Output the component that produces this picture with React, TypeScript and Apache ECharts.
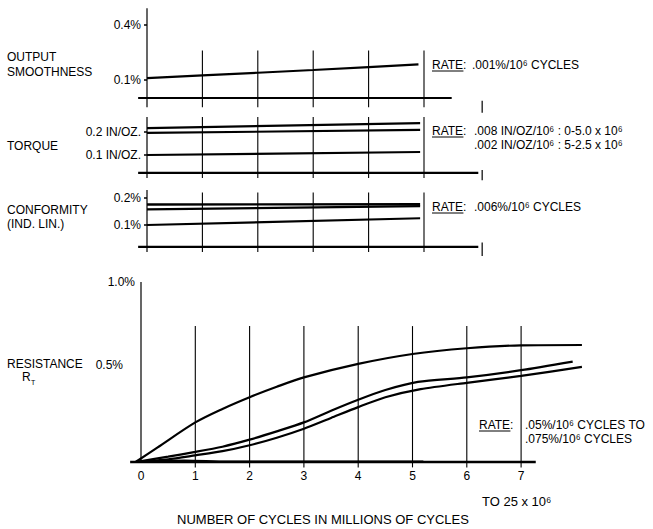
import React, { useEffect, useRef } from 'react';
import * as echarts from 'echarts';

const FONT = "'Liberation Sans', Arial, Helvetica, sans-serif";
const INK = '#000';

// ---------- DATA ----------
// Panel 1: output smoothness (%)
const smoothnessTicks = [0.1, 0.4];
const smoothnessCurve = [[0, 0.109], [1, 0.124], [2, 0.138], [3, 0.153], [4, 0.169], [4.9, 0.184]];
const smoothnessBase = 0;

// Panel 2: torque (IN/OZ.)
const torqueTicks = [0.1, 0.2];
const torqueUpper = [[0, 0.217], [4.93, 0.239]];
const torqueMiddle = [[0, 0.196], [4.93, 0.209]];
const torqueLower = [[0, 0.1], [4.93, 0.113]];
const torqueBase = 0.022;

// Panel 3: conformity (ind. lin., %)
const conformityTicks = [0.1, 0.2];
const conformityUpper = [[0, 0.176], [4.93, 0.177]];
const conformityMiddle = [[0, 0.158], [4.93, 0.17]];
const conformityLower = [[0, 0.1], [4.93, 0.125]];
const conformityBase = 0.019;

// Panel 4: resistance R_T (%), x = millions of cycles
const cycleTicks = [0, 1, 2, 3, 4, 5, 6, 7];
const resistanceTicks = [0.5, 1.0];
const resistanceUpper = [[-0.1, 0], [0.3, 0.08], [1, 0.22], [1.5, 0.295], [2, 0.36], [2.5, 0.418], [3, 0.47], [4, 0.545], [5, 0.6], [6, 0.632], [7, 0.648], [8.12, 0.65]];
const resistanceMiddle = [[-0.1, 0], [0.5, 0.03], [1, 0.056], [1.5, 0.085], [2, 0.124], [2.5, 0.17], [3, 0.22], [3.5, 0.285], [4, 0.346], [4.5, 0.4], [5.1, 0.445], [6, 0.47], [7, 0.51], [7.95, 0.558]];
const resistanceLower = [[-0.1, 0], [0.5, 0.015], [1, 0.037], [1.5, 0.06], [2, 0.093], [2.5, 0.135], [3, 0.185], [3.5, 0.245], [4, 0.305], [4.5, 0.36], [5.15, 0.405], [6, 0.44], [7, 0.478], [8.12, 0.528]];
const resistanceTrace = [[-0.1, 0], [0.8, 0.01], [1.6, 0.004], [5.2, 0.004]];
const resistanceBase = 0;

const panelColumns = [1, 2, 3, 4, 5];
const resistanceColumns = [1, 2, 3, 4, 5, 6, 7];

// ---------- LAYOUT ----------
// x0/y0: pixel of value 0; ux/uy: pixels per unit; extents cover all drawn marks
const panels = [
  { x0: 147, ux: 55.4, y0: 98, uy: 183, xmin: -0.2, xmax: 6.1, ymin: -0.09, ymax: 0.5, axis: [-0.05, 0.49] },
  { x0: 147, ux: 55.4, y0: 178, uy: 230, xmin: -0.2, xmax: 6.1, ymin: -0.02, ymax: 0.27, axis: [0, 0.265] },
  { x0: 147, ux: 55.4, y0: 252, uy: 270, xmin: -0.2, xmax: 6.1, ymin: -0.03, ymax: 0.235, axis: [0, 0.23] },
  { x0: 141, ux: 54.3, y0: 462, uy: 180, xmin: -0.25, xmax: 8.2, ymin: -0.04, ymax: 1.01, axis: [0, 1.0] },
];

const near = (a: number, b: number) => Math.abs(a - b) < 1e-6;

function measure(text: string, size: number) {
  const c = document.createElement('canvas').getContext('2d');
  if (!c) return text.length * size * 0.6;
  c.font = `${size}px ${FONT}`;
  return c.measureText(text).width;
}

export default function App() {
  const ref = useRef<HTMLDivElement>(null);

  useEffect(() => {
    if (!ref.current) return;
    const chart = echarts.init(ref.current, null, { renderer: 'svg' });

    const grids = panels.map((p) => ({
      left: p.x0 + p.xmin * p.ux,
      top: p.y0 - p.ymax * p.uy,
      width: (p.xmax - p.xmin) * p.ux,
      height: (p.ymax - p.ymin) * p.uy,
      containLabel: false,
    }));

    const tickFmt = (ticks: number[], fmt: (v: number) => string) => (v: number) => {
      const t = ticks.find((k) => near(k, v));
      return t === undefined ? '' : fmt(t);
    };

    const yAxis = (gi: number, ticks: number[], fmt: (v: number) => string) => ({
      type: 'value',
      gridIndex: gi,
      min: panels[gi].ymin,
      max: panels[gi].ymax,
      offset: panels[gi].xmin * panels[gi].ux,
      splitLine: { show: false },
      axisLine: { show: false },
      axisTick: { show: true, customValues: ticks, length: 3, lineStyle: { color: INK, width: 1.5 } },
      axisLabel: {
        customValues: ticks,
        formatter: tickFmt(ticks, fmt),
        color: INK,
        fontSize: 12,
        fontFamily: FONT,
        margin: 6,
      },
    });

    const pct = (v: number) => v.toFixed(1) + '%';
    const inoz = (v: number) => v.toFixed(1) + ' IN/OZ.';

    const xAxes = panels.map((p, gi) =>
      gi < 3
        ? { type: 'value', gridIndex: gi, min: p.xmin, max: p.xmax, show: false }
        : {
            type: 'value',
            gridIndex: gi,
            min: p.xmin,
            max: p.xmax,
            offset: p.ymin * p.uy,
            axisLine: { show: false },
            axisTick: { show: false },
            splitLine: { show: false },
            axisLabel: {
              customValues: cycleTicks,
              formatter: tickFmt(cycleTicks, (v) => String(v)),
              color: INK,
              fontSize: 12,
              fontFamily: FONT,
              margin: 8,
            },
          }
    );

    const yAxes = [
      yAxis(0, smoothnessTicks, pct),
      yAxis(1, torqueTicks, inoz),
      yAxis(2, conformityTicks, pct),
      {
        ...yAxis(3, resistanceTicks, pct),
        axisTick: { show: false },
        axisLabel: {
          customValues: resistanceTicks,
          formatter: (v: number) => (near(v, 1) ? '{a|1.0%}' : near(v, 0.5) ? '{b|0.5%}' : ''),
          color: INK,
          fontSize: 12,
          fontFamily: FONT,
          margin: 6,
          rich: {
            a: { fontSize: 12, fontFamily: FONT, color: INK },
            b: { fontSize: 12, fontFamily: FONT, color: INK, padding: [0, 12, 14, 0] },
          },
        },
      },
    ];

    const series: any[] = [];
    const line = (gi: number, data: number[][], width: number, smooth: any = false) =>
      series.push({
        type: 'line',
        xAxisIndex: gi,
        yAxisIndex: gi,
        data,
        symbol: 'none',
        smooth,
        clip: false,
        silent: true,
        animation: false,
        lineStyle: { color: INK, width },
      });

    // y-axis lines
    panels.forEach((p, gi) => line(gi, [[0, p.axis[0]], [0, p.axis[1]]], 1.2));

    // Panel 1
    panelColumns.forEach((k) => line(0, [[k, -0.05], [k, 0.26]], 1.1));
    line(0, [[-0.16, smoothnessBase], [5.5, smoothnessBase]], 2.2);
    line(0, [[6.05, -0.015], [6.05, -0.08]], 1.2);
    line(0, smoothnessCurve, 2.2);

    // Panel 2
    panelColumns.forEach((k) => line(1, [[k, 0], [k, 0.265]], 1.1));
    line(1, [[-0.16, torqueBase], [5.98, torqueBase]], 2.2);
    line(1, [[6.05, 0.035], [6.05, -0.01]], 1.2);
    line(1, torqueUpper, 2.2);
    line(1, torqueMiddle, 2.2);
    line(1, torqueLower, 2.2);

    // Panel 3
    panelColumns.forEach((k) => line(2, [[k, 0], [k, 0.22]], 1.1));
    line(2, [[-0.16, conformityBase], [5.98, conformityBase]], 2.2);
    line(2, [[6.05, 0.035], [6.05, -0.015]], 1.2);
    line(2, conformityUpper, 2.4);
    line(2, conformityMiddle, 2.2);
    line(2, conformityLower, 2.2);

    // Panel 4
    resistanceColumns.forEach((k) => line(3, [[k, -0.03], [k, 0.755]], 1.1));
    line(3, [[-0.2, resistanceBase], [7.27, resistanceBase]], 2.5);
    line(3, resistanceTrace, 1.4, 0.3);
    line(3, resistanceUpper, 2.2, 0.3);
    line(3, resistanceMiddle, 2.2, 0.25);
    line(3, resistanceLower, 2.2, 0.25);

    const txt = (text: string, x: number, y: number, size = 12, align = 'left') => ({
      type: 'text',
      x,
      y,
      silent: true,
      style: { text, fontSize: size, fontFamily: FONT, fill: INK, align, verticalAlign: 'middle' },
    });
    const rate = (x: number, y: number) => {
      const w = measure('RATE:', 12);
      return [
        txt('RATE:', x, y),
        { type: 'line', silent: true, shape: { x1: x, y1: y + 6, x2: x + w - 3, y2: y + 6 }, style: { stroke: INK, lineWidth: 1 } },
      ];
    };

    const graphic: any[] = [
      txt('OUTPUT', 7, 57),
      txt('SMOOTHNESS', 7, 72),
      txt('TORQUE', 7, 146),
      txt('CONFORMITY', 7, 210),
      txt('(IND. LIN.)', 7, 224),
      txt('RESISTANCE', 7, 364),
      txt('R', 22, 377),
      txt('T', 31, 382, 7),
      ...rate(432, 65),
      txt('.001%/10\u2076 CYCLES', 472, 65),
      ...rate(432, 131),
      txt('.008 IN/OZ/10\u2076 : 0-5.0 x 10\u2076', 474, 131),
      txt('.002 IN/OZ/10\u2076 : 5-2.5 x 10\u2076', 474, 144.5),
      ...rate(432, 207),
      txt('.006%/10\u2076 CYCLES', 474, 207),
      ...rate(479, 425),
      txt('.05%/10\u2076 CYCLES TO', 525, 425),
      txt('.075%/10\u2076 CYCLES', 525, 439),
      txt('TO 25 x 10\u2076', 482, 501, 13),
      txt('NUMBER OF CYCLES IN MILLIONS OF CYCLES', 323, 519, 13, 'center'),
    ];

    chart.setOption({
      animation: false,
      backgroundColor: '#fff',
      grid: grids,
      xAxis: xAxes,
      yAxis: yAxes,
      series,
      graphic,
    });

    return () => chart.dispose();
  }, []);

  return <div ref={ref} style={{ position: 'absolute', left: 0, top: 0, width: 653, height: 529 }} />;
}
